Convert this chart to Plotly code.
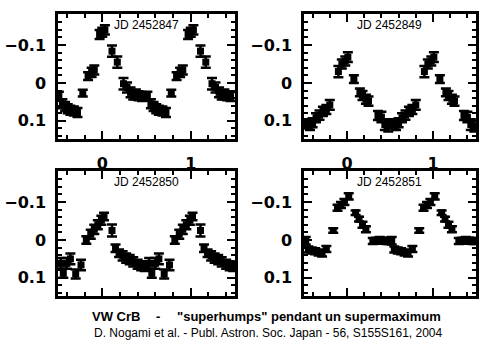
import plotly.graph_objects as go

# ---------------- data (phase, magnitude difference, error) ----------------
night_labels = ["JD 2452847", "JD 2452849", "JD 2452850", "JD 2452851"]

phase_2847 = [-0.49, -0.45, -0.42, -0.39, -0.36, -0.32, -0.28, -0.22, -0.16, -0.12, -0.09,
              -0.03, 0.0, 0.03, 0.11, 0.17, 0.24, 0.28, 0.32, 0.35, 0.38, 0.41, 0.45]
dmag_2847 = [0.035, 0.055, 0.062, 0.068, 0.072, 0.074, 0.078, 0.027, -0.018, -0.028, -0.034,
             -0.128, -0.134, -0.14, -0.084, -0.055, 0.002, 0.012, 0.025, 0.032, 0.03, 0.034, 0.036]
err_2847 = [0.012, 0.012, 0.012, 0.012, 0.012, 0.012, 0.012, 0.009, 0.01, 0.012, 0.012,
            0.012, 0.012, 0.012, 0.015, 0.015, 0.015, 0.013, 0.013, 0.012, 0.013, 0.012, 0.012]

phase_2849 = [-0.47, -0.43, -0.40, -0.36, -0.32, -0.28, -0.24, -0.20, -0.10, -0.06, -0.02,
              0.01, 0.08, 0.15, 0.18, 0.22, 0.25, 0.36, 0.40, 0.44, 0.48]
dmag_2849 = [0.108, 0.112, 0.105, 0.092, 0.085, 0.075, 0.07, 0.058, -0.03, -0.05, -0.058,
             -0.068, -0.01, 0.025, 0.033, 0.043, 0.048, 0.086, 0.09, 0.11, 0.114]
err_2849 = [0.012, 0.012, 0.012, 0.012, 0.012, 0.012, 0.012, 0.013, 0.015, 0.012, 0.012,
            0.013, 0.01, 0.01, 0.012, 0.012, 0.012, 0.012, 0.014, 0.014, 0.014]

phase_2850 = [-0.47, -0.44, -0.40, -0.36, -0.30, -0.24, -0.18, -0.13, -0.09, -0.05, -0.01,
              0.02, 0.11, 0.15, 0.19, 0.23, 0.27, 0.31, 0.35, 0.40, 0.44, 0.48]
dmag_2850 = [0.062, 0.088, 0.062, 0.05, 0.09, 0.066, 0.0, -0.015, -0.028, -0.04, -0.052,
             -0.062, -0.025, 0.022, 0.035, 0.042, 0.048, 0.052, 0.058, 0.064, 0.068, 0.07]
err_2850 = [0.014, 0.012, 0.014, 0.014, 0.012, 0.014, 0.01, 0.012, 0.012, 0.012, 0.012,
            0.01, 0.016, 0.01, 0.01, 0.012, 0.012, 0.012, 0.012, 0.012, 0.012, 0.012]

phase_2851 = [-0.48, -0.45, -0.41, -0.37, -0.33, -0.29, -0.24, -0.16, -0.11, -0.07, -0.03,
              0.02, 0.10, 0.14, 0.18, 0.22, 0.30, 0.34, 0.38, 0.42, 0.46, 0.49]
dmag_2851 = [0.002, 0.025, 0.028, 0.03, 0.033, 0.036, 0.024, -0.025, -0.085, -0.092, -0.1,
             -0.115, -0.072, -0.055, -0.04, -0.028, 0.003, 0.002, 0.0, 0.002, 0.003, 0.003]
err_2851 = [0.01, 0.008, 0.008, 0.008, 0.008, 0.008, 0.008, 0.006, 0.008, 0.008, 0.008,
            0.008, 0.006, 0.006, 0.008, 0.008, 0.008, 0.008, 0.008, 0.008, 0.008, 0.008]

title_main = ["VW CrB", "-", "\"superhumps\" pendant un supermaximum"]
title_ref = "D. Nogami et al. - Publ. Astron. Soc. Japan - 56, S155S161, 2004"

y_ticks = [-0.1, 0, 0.1]
y_ticktext = ["\u22120.1", "0", "0.1"]
x_ticks = [0, 1]
x_ticktext = ["0", "1"]

# ---------------- figure ----------------
W, H = 503, 355
series = [(phase_2847, dmag_2847, err_2847),
          (phase_2849, dmag_2849, err_2849),
          (phase_2850, dmag_2850, err_2850),
          (phase_2851, dmag_2851, err_2851)]

x_dom = [[58 / W, 235 / W], [304 / W, 476 / W]]
y_dom = [[1 - 139 / H, 1 - 14 / H], [1 - 296 / H, 1 - 171 / H]]

fig = go.Figure()
tickfont = dict(family="DejaVu Sans", size=16, color="black", weight="bold")

for i, (ph, dm, er) in enumerate(series):
    n = i + 1
    # phase-folded: plot two cycles
    xs = list(ph) + [p + 1 for p in ph]
    ys = list(dm) + list(dm)
    es = list(er) + list(er)
    fig.add_trace(go.Scatter(
        x=xs, y=ys, mode="markers",
        marker=dict(symbol="square", size=7, color="black"),
        error_y=dict(type="data", array=es, visible=True, color="black",
                     thickness=2.5, width=5),
        xaxis=f"x{n}", yaxis=f"y{n}", showlegend=False,
    ))
    col = i % 2
    row = i // 2
    axis_common = dict(showline=True, linewidth=2.5, linecolor="black", mirror="allticks",
                       ticks="inside", tickwidth=2, tickcolor="black", showgrid=False,
                       zeroline=False, tickfont=tickfont)
    fig.update_layout(**{
        f"xaxis{n}": dict(axis_common, domain=x_dom[col], range=[-0.5, 1.5],
                          anchor=f"y{n}", tickvals=x_ticks, ticktext=x_ticktext,
                          ticklen=8, showticklabels=(row == 0), ticklabelstandoff=8,
                          minor=dict(dtick=0.2, tick0=0, ticks="inside", ticklen=4,
                                     tickwidth=2, tickcolor="black")),
        f"yaxis{n}": dict(axis_common, domain=y_dom[row], range=[0.148, -0.182],
                          anchor=f"x{n}", tickvals=y_ticks, ticktext=y_ticktext,
                          ticklen=8, ticklabelstandoff=6,
                          minor=dict(dtick=0.02, tick0=0, ticks="inside", ticklen=4,
                                     tickwidth=2, tickcolor="black")),
    })
    fig.add_annotation(text=night_labels[i], xref="paper", yref="paper",
                       x=(x_dom[col][0] + x_dom[col][1]) / 2,
                       y=y_dom[row][1] - 11 / H, xanchor="center", yanchor="middle",
                       showarrow=False,
                       font=dict(family="Liberation Sans", size=12, color="black"))

tf = dict(family="Liberation Sans", size=13, color="black", weight="bold")
fig.add_annotation(text=title_main[0], xref="paper", yref="paper", x=90 / W, y=1 - 316 / H,
                   xanchor="left", yanchor="middle", showarrow=False, font=tf)
fig.add_annotation(text=title_main[1], xref="paper", yref="paper", x=158 / W, y=1 - 316 / H,
                   xanchor="center", yanchor="middle", showarrow=False, font=tf)
fig.add_annotation(text=title_main[2], xref="paper", yref="paper", x=175 / W, y=1 - 316 / H,
                   xanchor="left", yanchor="middle", showarrow=False, font=tf)
fig.add_annotation(text=title_ref, xref="paper", yref="paper", x=268 / W, y=1 - 333 / H,
                   xanchor="center", yanchor="middle", showarrow=False,
                   font=dict(family="Liberation Sans", size=12, color="black"))

fig.update_layout(width=W, height=H, margin=dict(l=0, r=0, t=0, b=0),
                  paper_bgcolor="white", plot_bgcolor="white")
fig.write_html("out.html")
